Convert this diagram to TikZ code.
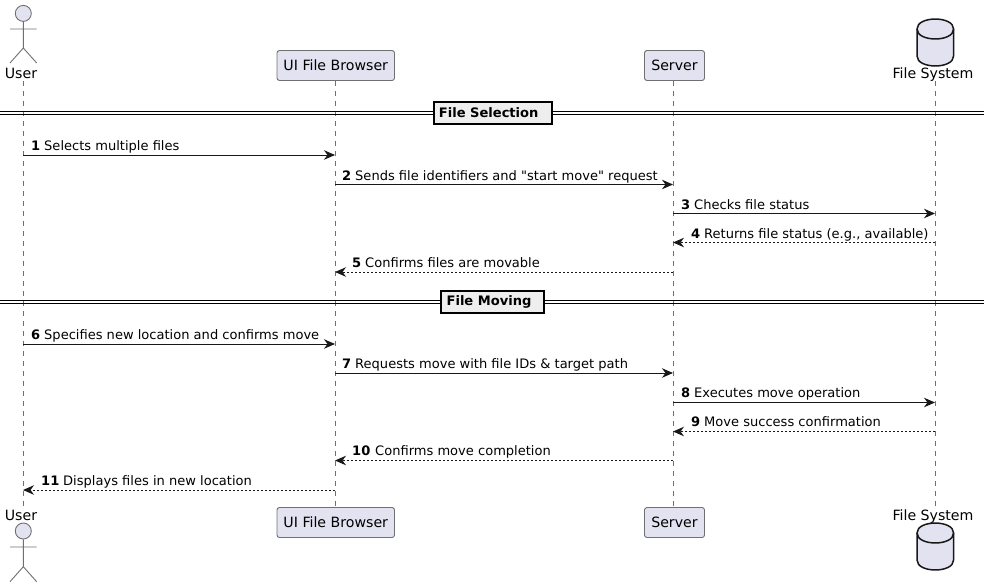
\documentclass[tikz,border=0pt]{standalone}
\usepackage{fontspec}
\setmainfont{DejaVu Sans}[Ligatures=TeXOff]
\usetikzlibrary{arrows.meta}
\definecolor{pfill}{HTML}{E2E2F0}
\definecolor{pline}{HTML}{181818}
\definecolor{psoft}{HTML}{707070}
\definecolor{sepfill}{HTML}{EEEEEE}
\tikzset{
  partbox/.style={draw=psoft,line width=0.9pt,fill=pfill,rounded corners=2.5pt,minimum height=30pt,inner sep=0pt,font=\fontsize{14.15}{16}\selectfont,text=black},
  partname/.style={inner sep=0pt,font=\fontsize{14.15}{16}\selectfont,text=black},
  lifeline/.style={draw=psoft,line width=0.9pt,dash pattern=on 5pt off 5pt},
  msg/.style={draw=pline,line width=1pt,-{Stealth[length=11pt,width=9.5pt,inset=3.5pt,fill=pline]},shorten >=0pt},
  ret/.style={msg,dash pattern=on 2pt off 2pt},
  lbl/.style={anchor=base west,inner sep=0pt,font=\fontsize{13.04}{15}\selectfont,text=black},
  sepbox/.style={draw=black,line width=2pt,fill=sepfill,inner sep=0pt,minimum height=22pt,font=\bfseries\fontsize{13.04}{15}\selectfont,text=black},
  sepline/.style={draw=black,line width=1pt},
  actorline/.style={draw=psoft,line width=0.9pt},
  actorhead/.style={circle,draw=psoft,line width=0.9pt,fill=pfill,minimum size=16pt,inner sep=0pt},
  dbshape/.style={draw=pline,line width=1.5pt,fill=pfill},
}
\newcommand{\dbdraw}[1]{%
  \draw[dbshape] (917,#1+10) .. controls (917,#1-3.3) and (953.6,#1-3.3) .. (953.6,#1+10)
     -- (953.6,#1+37) .. controls (953.6,#1+50.3) and (917,#1+50.3) .. (917,#1+37) -- cycle;
  \draw[dbshape,fill=none] (917,#1+10) .. controls (917,#1+23.3) and (953.6,#1+23.3) .. (953.6,#1+10);
}
\newcommand{\numlabel}[3]{\node[lbl] at (#1,#2) {\textbf{#3}};}
\begin{document}
\begin{tikzpicture}[x=1pt,y=-1pt]
\useasboundingbox (0,0) rectangle (990,587);
% lifeline ends
\coordinate (ut) at (23,81); \coordinate (ub) at (23,507);
\coordinate (dt) at (935,81); \coordinate (db) at (935,507);
% lifelines
\coordinate (it) at (335,81); \coordinate (ib) at (335,507);
\coordinate (st) at (673,81); \coordinate (sb) at (673,507);
\draw[lifeline] (ut) -- (ub);
\draw[lifeline] (it) -- (ib);
\draw[lifeline] (st) -- (sb);
\draw[lifeline] (dt) -- (db);
% participants, top
\node[partbox,minimum width=117.5pt] (uit) at (335.75,65.5) {UI File Browser};
\node[partbox,minimum width=60pt] (srt) at (674.5,65.5) {Server};
% participants, bottom
\node[partbox,minimum width=117.5pt] (uib) at (335.75,522.5) {UI File Browser};
\node[partbox,minimum width=60pt] (srb) at (674.5,522.5) {Server};
% actor top
\node[actorhead] (ah1) at (23.3,13.4) {};
\draw[actorline] (ah1.south) -- (23.3,48) (10,29) -- (36.7,29) (10,63) -- (23.3,48) -- (36.7,63);
\node[partname] (un1) at (21,73) {User};
% actor bottom
\node[partname] (un2) at (21,515) {User};
\node[actorhead] (ah2) at (23.3,531) {};
\draw[actorline] (ah2.south) -- (23.3,566.7) (10,547) -- (36.7,547) (10,581.7) -- (23.3,566.7) -- (36.7,581.7);
% database
\dbdraw{19}
\node[partname] (dn1) at (933,75) {File System};
\node[partname] (dn2) at (933,517) {File System};
\dbdraw{523}
% separators
\coordinate (sa1) at (0,111.7); \coordinate (sb1) at (984,111.7);
\coordinate (sa2) at (0,114.5); \coordinate (sb2) at (984,114.5);
\coordinate (sa3) at (0,300.3); \coordinate (sb3) at (984,300.3);
\coordinate (sa4) at (0,303.2); \coordinate (sb4) at (984,303.2);
\draw[sepline] (sa1) -- (sb1) (sa2) -- (sb2) (sa3) -- (sb3) (sa4) -- (sb4);
\node[sepbox,minimum width=118pt] (s1) at (492.7,112.5) {File Selection\hspace*{8pt}};
\node[sepbox,minimum width=103pt] (s2) at (492,301.5) {\hspace*{1pt}File Moving\hspace*{7pt}};
% rows
\foreach \n/\y in {1/155,2/184.5,3/213.5,4/242.5,5/272,6/344,7/373,8/402.5,9/431.5,10/460.5,11/490}
  \coordinate (r\n) at (0,\y);
\coordinate (U) at (23,0); \coordinate (I) at (335,0); \coordinate (S) at (673,0); \coordinate (D) at (935,0);
% messages
\draw[msg] (U |- r1) -- (I |- r1);
\draw[msg] (I |- r2) -- (S |- r2);
\draw[msg] (S |- r3) -- (D |- r3);
\draw[ret] (D |- r4) -- (S |- r4);
\draw[ret] (S |- r5) -- (I |- r5);
\draw[msg] (U |- r6) -- (I |- r6);
\draw[msg] (I |- r7) -- (S |- r7);
\draw[msg] (S |- r8) -- (D |- r8);
\draw[ret] (D |- r9) -- (S |- r9);
\draw[ret] (S |- r10) -- (I |- r10);
\draw[ret] (I |- r11) -- (U |- r11);
% labels
\numlabel{31}{150}{1}
\node[lbl] at (44,150) {Selects multiple files};
\numlabel{342}{180}{2}
\node[lbl] at (355,180) {Sends file identifiers and "start move" request};
\numlabel{681}{209}{3}
\node[lbl] at (694,209) {Checks file status};
\numlabel{691}{238}{4}
\node[lbl] at (704,238) {Returns file status (e.g., available)};
\numlabel{352}{267.5}{5}
\node[lbl] at (365,267.5) {Confirms files are movable};
\numlabel{31}{339.5}{6}
\node[lbl] at (44,339.5) {Specifies new location and confirms move};
\numlabel{342}{368.5}{7}
\node[lbl] at (355,368.5) {Requests move with file IDs \& target path};
\numlabel{681}{397.7}{8}
\node[lbl] at (694,397.7) {Executes move operation};
\numlabel{691}{426.7}{9}
\node[lbl] at (704,426.7) {Move success confirmation};
\numlabel{352}{455.7}{10}
\node[lbl] at (375,455.7) {Confirms move completion};
\numlabel{41}{485.5}{11}
\node[lbl] at (63,485.5) {Displays files in new location};
\end{tikzpicture}
\end{document}
